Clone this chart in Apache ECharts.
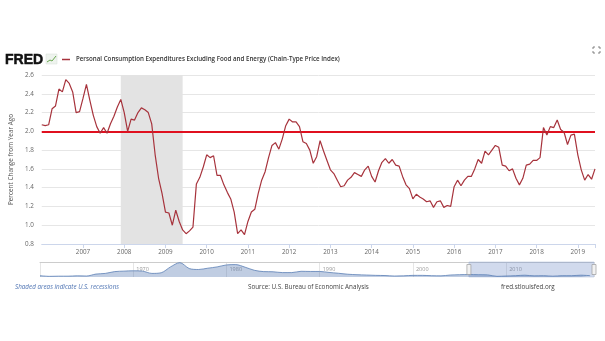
<!DOCTYPE html>
<html><head><meta charset="utf-8">
<script src="https://cdn.jsdelivr.net/npm/echarts@6/dist/echarts.min.js"></script>
<style>html,body{margin:0;padding:0;background:#fff}#c{width:605px;height:341px}</style>
</head><body><div id="c"></div>
<script>
// Monthly values, Percent Change from Year Ago
const startYear = 2006;
const v2006 = [2.07,2.06,2.07,2.24,2.27,2.45,2.42,2.55,2.51,2.42,2.20,2.21];
const v2007 = [2.35,2.50,2.33,2.17,2.05,1.98,2.04,1.98,2.08,2.16,2.26,2.34];
const v2008 = [2.20,2.00,2.13,2.12,2.20,2.25,2.23,2.20,2.08,1.75,1.50,1.34];
const v2009 = [1.14,1.13,1.00,1.16,1.04,0.95,0.91,0.94,0.98,1.44,1.51,1.62];
const v2010 = [1.75,1.72,1.74,1.53,1.53,1.43,1.35,1.28,1.14,0.91,0.95,0.90];
const v2011 = [1.04,1.14,1.17,1.34,1.48,1.57,1.72,1.85,1.88,1.81,1.92,2.06];
const v2012 = [2.13,2.10,2.10,2.05,1.89,1.87,1.80,1.66,1.73,1.90,1.79,1.69];
const v2013 = [1.59,1.55,1.48,1.41,1.42,1.48,1.51,1.56,1.54,1.52,1.59,1.63];
const v2014 = [1.52,1.46,1.58,1.67,1.71,1.66,1.70,1.64,1.63,1.52,1.43,1.39];
const v2015 = [1.28,1.33,1.30,1.28,1.25,1.26,1.19,1.25,1.26,1.19,1.21,1.20];
const v2016 = [1.41,1.48,1.42,1.48,1.52,1.52,1.60,1.70,1.66,1.79,1.75,1.80];
const v2017 = [1.85,1.83,1.64,1.63,1.58,1.60,1.50,1.43,1.50,1.64,1.65,1.69];
const v2018 = [1.69,1.72,2.04,1.96,2.05,2.04,2.12,2.02,1.99,1.86,1.96,1.97];
const v2019 = [1.75,1.59,1.48,1.54,1.49,1.60];

// Recession (Dec 2007 - Jun 2009): [year, month]
const recessionStart = [2007, 12];
const recessionEnd = [2009, 6];

// Reference line
const refLevel = 2.0;

// Y axis ticks
const yMin = 0.8, yMax = 2.6, yStep = 0.2;

// Navigator: annual values, full history
const navStartYear = 1960;
const navValues = [1.6,1.2,1.3,1.3,1.5,1.4,2.6,3.0,4.1,4.4,
                   4.6,4.4,3.0,3.4,7.0,9.6,6.0,5.4,6.2,7.0,
                   8.2,8.4,6.8,4.9,4.1,4.0,3.5,3.5,4.3,4.2,
                   4.2,3.6,3.1,2.5,2.2,2.0,1.8,1.7,1.4,1.5,
                   1.8,1.8,1.6,1.5,2.0,2.2,2.3,2.2,2.1,1.2,
                   1.4,1.6,1.9,1.5,1.6,1.3,1.6,1.6,1.9,1.6];

const yearArrays = [v2006,v2007,v2008,v2009,v2010,v2011,v2012,v2013,v2014,v2015,v2016,v2017,v2018,v2019];
const seriesData = [];
yearArrays.forEach((arr, i) => arr.forEach((v, j) => seriesData.push([startYear + i + j / 12, v])));
const xMaxVal = seriesData[seriesData.length - 1][0];
const navData = navValues.map((v, i) => [navStartYear + i, v]);
const ym = a => a[0] + (a[1] - 1) / 12;

const FONT = 'Open Sans';
const lineColor = '#a7333c';
const chart = echarts.init(document.getElementById('c'), null, {renderer: 'canvas'});
chart.setOption({
  animation: false,
  backgroundColor: '#fff',
  textStyle: {fontFamily: FONT},
  title: [
    {text: 'FRED', left: 5, top: 53, padding: 0, textStyle: {fontFamily: 'Liberation Sans', fontSize: 14, fontWeight: 'bold', color: '#111', textBorderColor: '#111', textBorderWidth: 0.5}},
    {text: 'Personal Consumption Expenditures Excluding Food and Energy (Chain-Type Price Index)', left: 76, top: 56, padding: 0,
     textStyle: {fontFamily: FONT, fontSize: 6.2, fontWeight: 600, color: '#333'}},
    {text: 'Shaded areas indicate U.S. recessions', left: 15, top: 284, padding: 0, textStyle: {fontFamily: FONT, fontSize: 6.3, fontStyle: 'italic', fontWeight: 'normal', color: '#4f74b3'}},
    {text: 'Source: U.S. Bureau of Economic Analysis', left: 248, top: 284, padding: 0, textStyle: {fontFamily: FONT, fontSize: 6.3, fontWeight: 'normal', color: '#444'}},
    {text: 'fred.stlouisfed.org', left: 501, top: 284, padding: 0, textStyle: {fontFamily: FONT, fontSize: 6.3, fontWeight: 'normal', color: '#444'}}
  ],
  graphic: [
    {type: 'rect', shape: {x: 46, y: 54, width: 11, height: 10}, style: {fill: '#eef3ee', stroke: '#d5ddd5', lineWidth: 0.5}},
    {type: 'polyline', shape: {points: [[47, 62], [50, 60], [52, 61], [56, 56]]}, style: {stroke: '#6aa84f', lineWidth: 1, fill: null}},
    {type: 'line', shape: {x1: 62, y1: 59.5, x2: 70, y2: 59.5}, style: {stroke: lineColor, lineWidth: 1.5}},
    {type: 'polyline', shape: {points: [[593, 49], [593, 47], [595, 47]]}, style: {stroke: '#666', lineWidth: 0.8, fill: null}},
    {type: 'polyline', shape: {points: [[598, 47], [600, 47], [600, 49]]}, style: {stroke: '#666', lineWidth: 0.8, fill: null}},
    {type: 'polyline', shape: {points: [[593, 51], [593, 53], [595, 53]]}, style: {stroke: '#666', lineWidth: 0.8, fill: null}},
    {type: 'polyline', shape: {points: [[598, 53], [600, 53], [600, 51]]}, style: {stroke: '#666', lineWidth: 0.8, fill: null}}
  ],
  grid: [
    {left: 39.5, right: 10, top: 75, height: 169},
    {left: 40, right: 11, top: 262, height: 15}
  ],
  xAxis: [
    {gridIndex: 0, type: 'value', min: startYear, max: xMaxVal, interval: 1,
     axisLine: {show: true, lineStyle: {color: '#ccd6eb'}},
     axisTick: {show: true, length: 4, lineStyle: {color: '#ccd6eb'}},
     splitLine: {show: false},
     axisLabel: {showMinLabel: false, color: '#666', fontSize: 6.3, margin: 5,
       formatter: v => (Math.abs(v - Math.round(v)) < 1e-6 ? String(Math.round(v)) : '')}},
    {gridIndex: 1, type: 'value', min: navStartYear, max: xMaxVal, position: 'top',
     axisLine: {show: true, lineStyle: {color: '#cccccc'}},
     axisTick: {show: false},
     splitLine: {show: true, lineStyle: {color: '#e6e6e6', width: 1}},
     axisLabel: {inside: true, showMinLabel: false, showMaxLabel: false, color: '#999', fontSize: 5.5, align: 'left', margin: 4, padding: [0, 0, 0, 3],
       formatter: v => (v % 10 === 0 ? String(v) : '')}}
  ],
  yAxis: [
    {gridIndex: 0, type: 'value', min: yMin, max: yMax, interval: yStep,
     name: 'Percent Change from Year Ago', nameLocation: 'middle', nameGap: 24, nameRotate: 90,
     nameTextStyle: {color: '#555', fontSize: 6.4, fontFamily: FONT},
     axisLine: {show: false}, axisTick: {show: false},
     splitLine: {lineStyle: {color: '#e6e6e6', width: 1}},
     axisLabel: {color: '#666', fontSize: 6.3, margin: 8, formatter: v => v.toFixed(1)}},
    {gridIndex: 1, type: 'value', min: 0.8, max: 10,
     axisLine: {show: false}, axisTick: {show: false}, axisLabel: {show: false}, splitLine: {show: false}}
  ],
  series: [
    {type: 'line', xAxisIndex: 0, yAxisIndex: 0, data: seriesData, showSymbol: false, symbol: 'none',
     lineStyle: {color: lineColor, width: 1.2}, z: 5,
     markArea: {silent: true, itemStyle: {color: '#e3e3e3'}, data: [[{xAxis: ym(recessionStart)}, {xAxis: ym(recessionEnd)}]]},
     markLine: {silent: true, symbol: 'none', label: {show: false},
       lineStyle: {color: '#e0101f', width: 2, type: 'solid'}, data: [{yAxis: refLevel}]}},
    {type: 'line', xAxisIndex: 1, yAxisIndex: 1, data: navData, showSymbol: false, symbol: 'none', smooth: 0.3,
     lineStyle: {color: '#5b7fb5', width: 0.8},
     areaStyle: {color: 'rgba(90,125,180,0.55)', origin: 'start'},
     markArea: {silent: true, itemStyle: {color: 'rgba(102,133,194,0.3)', borderColor: '#a9b8d6', borderWidth: 0.5},
       data: [[{xAxis: startYear}, {xAxis: xMaxVal}]]},
     markPoint: {silent: true, symbol: 'rect', symbolSize: [4, 10], label: {show: false},
       itemStyle: {color: '#f2f2f2', borderColor: '#999', borderWidth: 0.6},
       data: [{coord: [startYear, 5.4]}, {coord: [xMaxVal, 5.4]}]}}
  ]
});
</script></body></html>
